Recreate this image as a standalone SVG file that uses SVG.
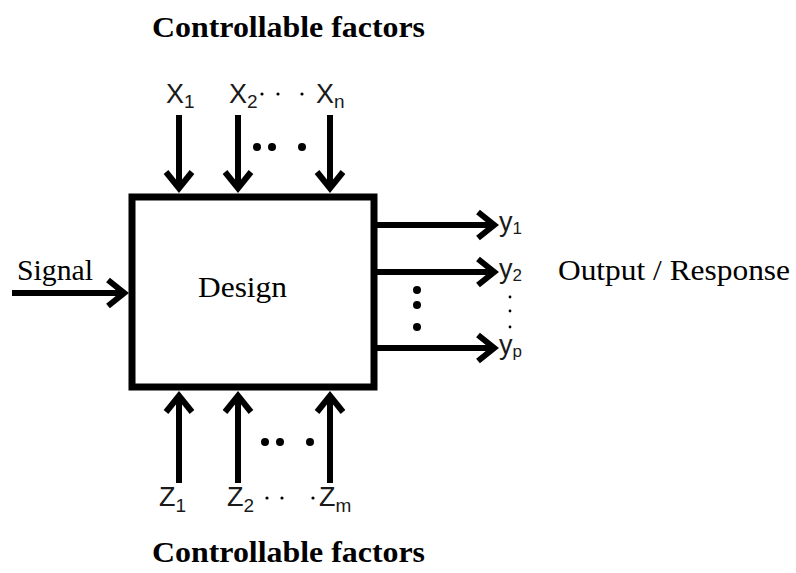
<svg xmlns="http://www.w3.org/2000/svg" width="796" height="573" viewBox="0 0 796 573">
<style>
.serif{font-family:"Liberation Serif","Times New Roman",serif;fill:#000}
.title{font-size:30px;font-weight:bold}
.lbl{font-size:30px}
.sans{font-family:"Liberation Sans",Arial,sans-serif;fill:#1a1a1a;font-size:27px}
.sub{font-size:19px}
.sub2{font-size:17px}
.shaft{stroke:#000;stroke-width:6;fill:none;marker-end:url(#chev)}
.box{fill:#fff;stroke:#000;stroke-width:7}
.dot{fill:#000}
</style>
<defs>
<marker id="chev" viewBox="-30 -20 45 40" refX="0" refY="0" markerWidth="45" markerHeight="40" markerUnits="userSpaceOnUse" orient="auto" overflow="visible">
<path d="M -15 -13 L 1.2 0 L -15 13" fill="none" stroke="#000" stroke-width="6" stroke-linejoin="miter" stroke-miterlimit="10"/>
</marker>
</defs>
<rect width="796" height="573" fill="#fff"/>

<g id="title-top"><text class="serif title" x="152" y="37" textLength="273" lengthAdjust="spacingAndGlyphs">Controllable factors</text></g>
<g id="title-bottom"><text class="serif title" x="152" y="562" textLength="273" lengthAdjust="spacingAndGlyphs">Controllable factors</text></g>

<g id="connectors">
<line class="shaft" x1="179" y1="115" x2="179" y2="187"/>
<line class="shaft" x1="238" y1="115" x2="238" y2="187"/>
<line class="shaft" x1="330" y1="115" x2="330" y2="187"/>
<line class="shaft" x1="179" y1="483" x2="179" y2="397"/>
<line class="shaft" x1="238" y1="483" x2="238" y2="397"/>
<line class="shaft" x1="330" y1="483" x2="330" y2="397"/>
<line class="shaft" x1="374" y1="225" x2="493" y2="225"/>
<line class="shaft" x1="374" y1="272" x2="493" y2="272"/>
<line class="shaft" x1="374" y1="348" x2="493" y2="348"/>
<line class="shaft" x1="12" y1="293" x2="123" y2="293"/>
</g>

<g id="design">
<rect class="box" x="132" y="197" width="242" height="190"/>
<text class="serif lbl" x="198" y="297" textLength="89" lengthAdjust="spacingAndGlyphs">Design</text>
</g>

<g id="signal"><text class="serif lbl" x="17" y="280" textLength="76" lengthAdjust="spacingAndGlyphs">Signal</text></g>
<g id="output"><text class="serif lbl" x="558" y="280" textLength="232" lengthAdjust="spacingAndGlyphs">Output / Response</text></g>

<g id="x-inputs">
<text class="sans" x="166" y="103">X<tspan class="sub" dy="5">1</tspan></text>
<text class="sans" x="229" y="103">X<tspan class="sub" dy="5">2</tspan></text>
<text class="sans" x="316" y="103">X<tspan class="sub" dy="5">n</tspan></text>
<circle class="dot" cx="262" cy="94" r="1.6"/>
<circle class="dot" cx="278" cy="94" r="1.6"/>
<circle class="dot" cx="302" cy="94" r="1.6"/>
<circle class="dot" cx="257" cy="147" r="4"/>
<circle class="dot" cx="272" cy="147" r="4"/>
<circle class="dot" cx="302" cy="147" r="4"/>
</g>

<g id="z-inputs">
<text class="sans" x="159" y="506">Z<tspan class="sub" dy="6">1</tspan></text>
<text class="sans" x="227" y="506">Z<tspan class="sub" dy="6">2</tspan></text>
<text class="sans" x="319" y="506">Z<tspan class="sub" dy="6">m</tspan></text>
<circle class="dot" cx="267" cy="498" r="1.6"/>
<circle class="dot" cx="282" cy="498" r="1.6"/>
<circle class="dot" cx="313" cy="498" r="1.6"/>
<circle class="dot" cx="265" cy="442" r="4"/>
<circle class="dot" cx="280" cy="442" r="4"/>
<circle class="dot" cx="310" cy="442" r="4"/>
</g>

<g id="y-outputs">
<text class="sans" x="499" y="231" font-size="21">y<tspan class="sub2" dy="3">1</tspan></text>
<text class="sans" x="499" y="278" font-size="21">y<tspan class="sub2" dy="3">2</tspan></text>
<text class="sans" x="499" y="354" font-size="21">y<tspan class="sub2" dy="3">p</tspan></text>
<circle class="dot" cx="510" cy="297" r="1.4"/>
<circle class="dot" cx="510" cy="311" r="1.4"/>
<circle class="dot" cx="510" cy="327" r="1.4"/>
<circle class="dot" cx="417" cy="290" r="4"/>
<circle class="dot" cx="417" cy="305" r="4"/>
<circle class="dot" cx="417" cy="327" r="4"/>
</g>
</svg>
